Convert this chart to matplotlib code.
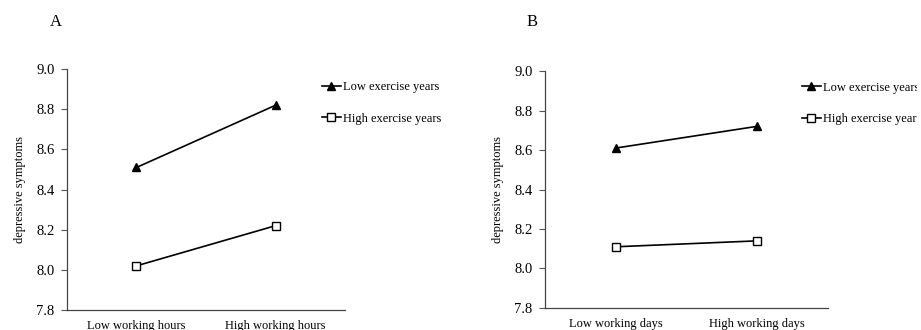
import matplotlib.pyplot as plt
from matplotlib.transforms import Bbox, TransformedBbox

plt.rcParams['font.family'] = ['Liberation Serif', 'DejaVu Serif']

# data
hours_labels = ['Low working hours', 'High working hours']
days_labels = ['Low working days', 'High working days']
hours_low_ex = [8.51, 8.82]
hours_high_ex = [8.02, 8.22]
days_low_ex = [8.61, 8.72]
days_high_ex = [8.11, 8.14]
yticks = [7.8, 8.0, 8.2, 8.4, 8.6, 8.8, 9.0]

fig = plt.figure(figsize=(9.21, 3.30), dpi=100)
axA = fig.add_axes([0.0727, 0.0606, 0.302, 0.730])
axB = fig.add_axes([0.5918, 0.0667, 0.307, 0.718])


def draw_panel(ax, cats, low, high, letter, letter_x, leg_labels, leg_pos, clip_right):
    xs = [0.5, 1.5]
    ax.plot(xs, low, color='black', lw=1.2, marker='^', markersize=6,
            markerfacecolor='black', label=leg_labels[0])
    ax.plot(xs, high, color='black', lw=1.2, marker='s', markersize=6,
            markerfacecolor='white', markeredgewidth=1.0, label=leg_labels[1])
    ax.set_xlim(0, 2)
    ax.set_ylim(7.8, 9.0)
    ax.set_yticks(yticks)
    ax.set_yticklabels(['%.1f' % v for v in yticks])
    ax.set_xticks(xs)
    ax.set_xticklabels(cats)
    ax.tick_params(axis='x', length=0, pad=7, labelsize=9)
    ax.tick_params(axis='y', length=4, width=0.8, color='#555555', pad=5, labelsize=10.5)
    for s in ['top', 'right']:
        ax.spines[s].set_visible(False)
    for s in ['left', 'bottom']:
        ax.spines[s].set_color('#444444')
        ax.spines[s].set_linewidth(0.9)
    ax.set_ylabel('depressive symptoms', fontsize=9, labelpad=7)
    leg = ax.legend(loc='upper left', bbox_to_anchor=leg_pos, frameon=False,
                    fontsize=9, handlelength=1.5, handletextpad=0.2,
                    labelspacing=1.55, borderpad=0, borderaxespad=0)
    # the legend text runs past the panel edge in the original, so cut it there
    clip = TransformedBbox(Bbox.from_extents(0, 0, clip_right, 1), fig.transFigure)
    for t in leg.get_texts():
        t.set_clip_on(True)
        t.set_clip_box(clip)
    fig.text(letter_x, 0.92, letter, fontsize=12)


draw_panel(axA, hours_labels, hours_low_ex, hours_high_ex, 'A', 50 / 921,
           ['Low exercise years', 'High exercise years'], (0.917, 0.95), 442 / 921)
draw_panel(axB, days_labels, days_low_ex, days_high_ex, 'B', 527 / 921,
           ['Low exercise years', 'High exercise years'], (0.908, 0.955), 917 / 921)

fig.savefig('out.png', dpi=100)
